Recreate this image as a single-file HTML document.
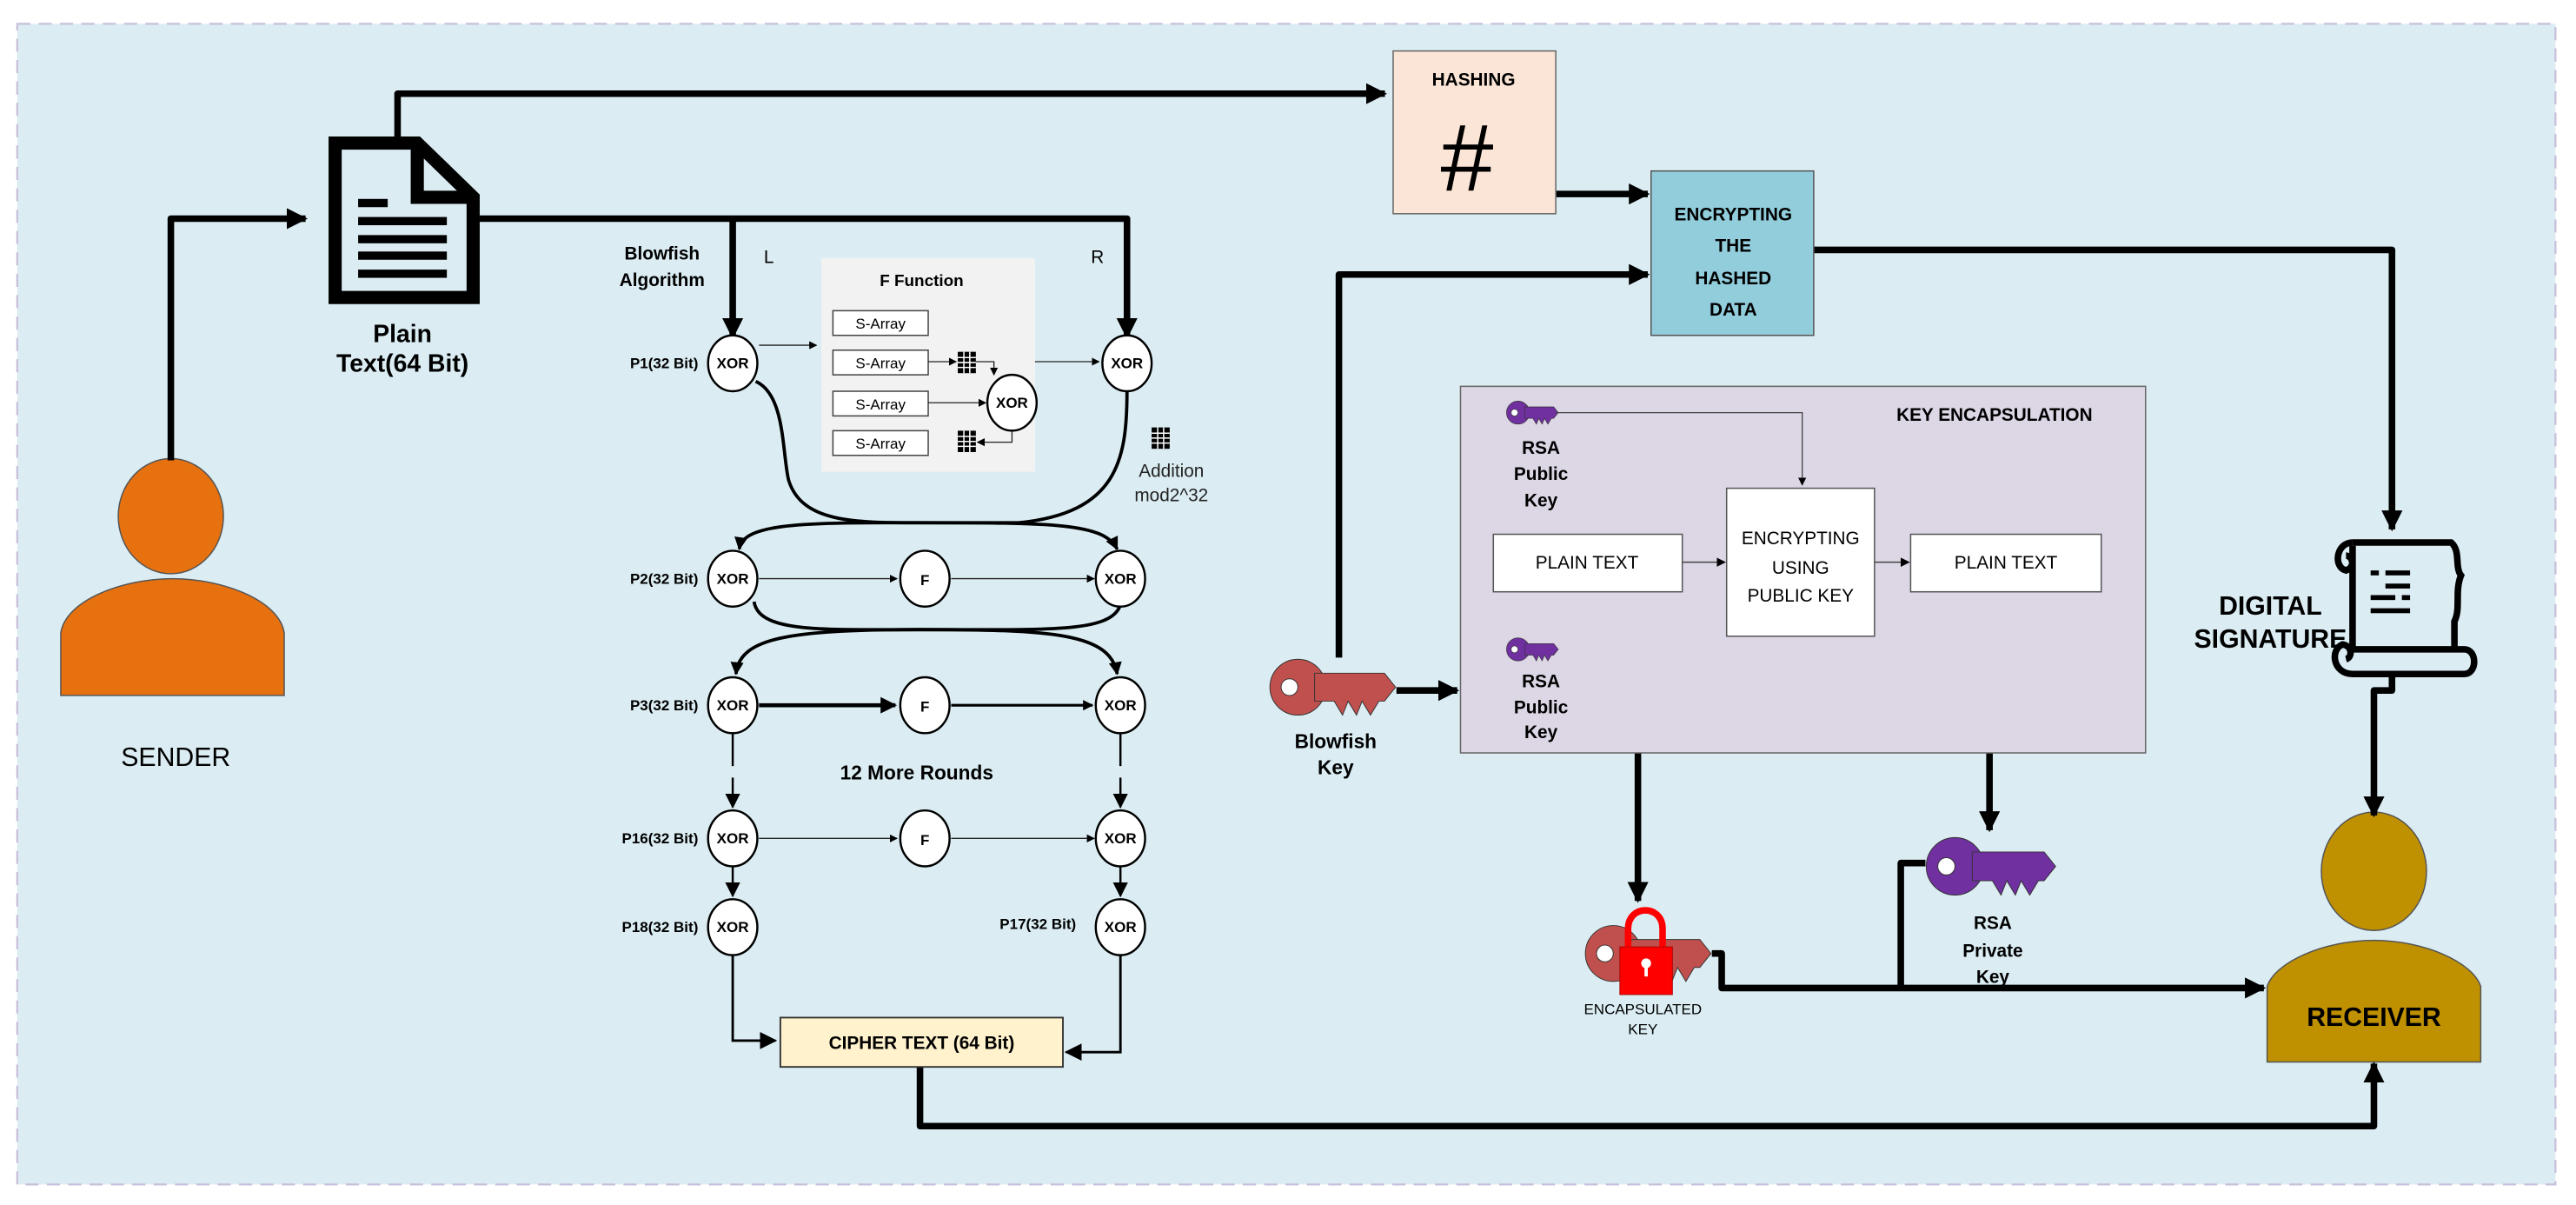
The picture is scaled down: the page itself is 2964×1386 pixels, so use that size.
<!DOCTYPE html>
<html><head><meta charset="utf-8"><style>
html,body{margin:0;padding:0;background:#fff;}
svg{display:block;}
text{font-family:"Liberation Sans Narrow","Liberation Sans",sans-serif;}
</style></head><body>
<svg width="2964" height="1386" viewBox="0 0 1568 733" preserveAspectRatio="none" xmlns="http://www.w3.org/2000/svg">
<defs>
<marker id="a" viewBox="0 0 10 10" refX="9" refY="5" markerWidth="3.2" markerHeight="3.2" orient="auto" markerUnits="strokeWidth"><path d="M0,0L10,5L0,10z" fill="#000"/></marker>
<marker id="t" viewBox="0 0 10 10" refX="9" refY="5" markerWidth="7" markerHeight="7" orient="auto" markerUnits="strokeWidth"><path d="M0,0L10,5L0,10z" fill="#000"/></marker>
<marker id="m" viewBox="0 0 10 10" refX="9" refY="5" markerWidth="4" markerHeight="4" orient="auto" markerUnits="strokeWidth"><path d="M0,0L10,5L0,10z" fill="#000"/></marker>
<g id="key"><circle cx="0" cy="0" r="10"/><polygon points="6,-5 31,-5 35,0 31,5 29,5 26,10 23,5 21,10 18,5 16,10 13,5 6,5"/><circle cx="-3" cy="0" r="3" fill="#fff"/></g>
<g id="grid"><rect x="0" y="0" width="11" height="13" fill="#000"/><path d="M0,3.5H11M0,6.5H11M0,9.5H11M3.7,0V13M7.3,0V13" stroke="#fff" stroke-width="0.8"/></g>
</defs>
<rect x="0" y="0" width="1568" height="733" fill="#fff"/>
<rect x="10.5" y="14.5" width="1545" height="706" fill="#dbedf3" stroke="#c9bfdc" stroke-width="1.2" stroke-dasharray="8,5"/>

<!-- sender -->
<ellipse cx="104" cy="314" rx="32" ry="35" fill="#e8710f" stroke="#555" stroke-width="0.8"/>
<path d="M37,423 V385 C40,365 75,352 105,352 C135,352 170,365 173,385 V423 Z" fill="#e8710f" stroke="#555" stroke-width="0.8"/>
<text x="107" y="466" font-size="16" text-anchor="middle">SENDER</text>

<!-- receiver -->
<ellipse cx="1445" cy="530" rx="32" ry="36" fill="#bf9000" stroke="#555" stroke-width="0.8"/>
<path d="M1380,646 V600 C1385,585 1415,572 1445,572 C1475,572 1505,585 1510,600 V646 Z" fill="#bf9000" stroke="#555" stroke-width="0.8"/>
<text x="1445" y="624" font-size="16" font-weight="bold" text-anchor="middle">RECEIVER</text>

<!-- thick connectors -->
<g fill="none" stroke="#000" stroke-width="4" stroke-linejoin="round">
<path d="M104,280 V133 H186" marker-end="url(#a)"/>
<path d="M242,83 V57 H843" marker-end="url(#a)"/>
<path d="M292,133 H686 V205" marker-end="url(#a)"/>
<path d="M446,133 V205" marker-end="url(#a)"/>
<path d="M947,118 H1003" marker-end="url(#a)"/>
<path d="M815,400 V167 H1003" marker-end="url(#a)"/>
<path d="M1104,152 H1456 V322" marker-end="url(#a)"/>
<path d="M1456,410 V420 H1445 V496" marker-end="url(#a)"/>
<path d="M850,420 H887" marker-end="url(#a)"/>
<path d="M997,458 V548" marker-end="url(#a)"/>
<path d="M1211,458 V505" marker-end="url(#a)"/>
<path d="M1042,580 H1048 V601 H1378" marker-end="url(#a)"/>
<path d="M1157,601 V525 H1172"/>
<path d="M560,649 V685 H1445 V647" marker-end="url(#a)"/>
</g>

<!-- document -->
<path d="M204,87 H254 L288,120 V181 H204 Z" fill="none" stroke="#000" stroke-width="8"/>
<path d="M254,87 V120 H288" fill="none" stroke="#000" stroke-width="8"/>
<rect x="218" y="121" width="18" height="5"/>
<rect x="218" y="132" width="54" height="5"/>
<rect x="218" y="143" width="54" height="5"/>
<rect x="218" y="153" width="54" height="5"/>
<rect x="218" y="164" width="54" height="5"/>
<text x="245" y="208" font-size="15" font-weight="bold" text-anchor="middle">Plain</text>
<text x="245" y="226" font-size="15" font-weight="bold" text-anchor="middle">Text(64 Bit)</text>

<!-- hashing -->
<rect x="848" y="31" width="99" height="99" fill="#fbe5d6" stroke="#666" stroke-width="0.8"/>
<text x="897" y="52" font-size="11" font-weight="bold" text-anchor="middle">HASHING</text>
<text x="893" y="116" font-size="58" text-anchor="middle">#</text>
<!-- encrypting hashed -->
<rect x="1005" y="104" width="99" height="100" fill="#92cddc" stroke="#555" stroke-width="0.8"/>
<g font-size="11" font-weight="bold" text-anchor="middle">
<text x="1055" y="134">ENCRYPTING</text><text x="1055" y="153">THE</text><text x="1055" y="173">HASHED</text><text x="1055" y="192">DATA</text>
</g>

<!-- scroll -->
<g fill="none" stroke="#000" stroke-width="4">
<path d="M1432,330 H1492 C1498,335 1494,345 1498,350 C1494,360 1498,370 1494,378 V396"/>
<path d="M1432,330 C1422,330 1420,345 1428,347 C1434,345 1432,338 1428,338"/>
<path d="M1432,332 V395"/>
<path d="M1432,395 H1500 C1508,395 1508,410 1500,410 H1432 C1420,410 1418,395 1426,392 C1432,393 1432,400 1428,401"/>
</g>
<rect x="1443" y="347" width="5" height="3"/><rect x="1452" y="347" width="15" height="3"/>
<rect x="1452" y="355" width="15" height="3"/><rect x="1443" y="362" width="15" height="3"/><rect x="1462" y="362" width="5" height="3"/>
<rect x="1443" y="370" width="24" height="3"/>
<text x="1382" y="374" font-size="16" font-weight="bold" text-anchor="middle">DIGITAL</text>
<text x="1382" y="394" font-size="16" font-weight="bold" text-anchor="middle">SIGNATURE</text>

<!-- key encapsulation -->
<rect x="889" y="235" width="417" height="223" fill="#dcd6e5" stroke="#666" stroke-width="0.8"/>
<text x="1214" y="256" font-size="11" font-weight="bold" text-anchor="middle">KEY ENCAPSULATION</text>
<use href="#key" transform="translate(924,251) scale(0.7)" fill="#7030a0" stroke="#333" stroke-width="0.5"/>
<g font-size="11" font-weight="bold" text-anchor="middle">
<text x="938" y="276">RSA</text><text x="938" y="292">Public</text><text x="938" y="308">Key</text>
</g>
<path d="M947,251 H1097 V295" fill="none" stroke="#444" stroke-width="0.7" marker-end="url(#t)"/>
<rect x="1051" y="297" width="90" height="90" fill="#fff" stroke="#555" stroke-width="0.8"/>
<g font-size="11" text-anchor="middle">
<text x="1096" y="331">ENCRYPTING</text><text x="1096" y="349">USING</text><text x="1096" y="366">PUBLIC KEY</text>
</g>
<rect x="909" y="325" width="115" height="35" fill="#fff" stroke="#555" stroke-width="0.8"/>
<rect x="1163" y="325" width="116" height="35" fill="#fff" stroke="#555" stroke-width="0.8"/>
<text x="966" y="346" font-size="11" text-anchor="middle">PLAIN TEXT</text>
<text x="1221" y="346" font-size="11" text-anchor="middle">PLAIN TEXT</text>
<path d="M1024,342 H1050" stroke="#444" stroke-width="0.8" marker-end="url(#t)"/>
<path d="M1141,342 H1162" stroke="#444" stroke-width="0.8" marker-end="url(#t)"/>
<use href="#key" transform="translate(924,395) scale(0.7)" fill="#7030a0" stroke="#333" stroke-width="0.5"/>
<g font-size="11" font-weight="bold" text-anchor="middle">
<text x="938" y="418">RSA</text><text x="938" y="434">Public</text><text x="938" y="449">Key</text>
</g>

<!-- blowfish key -->
<use href="#key" transform="translate(790,418) scale(1.7)" fill="#c0504d" stroke="#333" stroke-width="0.3"/>
<text x="813" y="455" font-size="12" font-weight="bold" text-anchor="middle">Blowfish</text>
<text x="813" y="471" font-size="12" font-weight="bold" text-anchor="middle">Key</text>

<!-- encapsulated key -->
<use href="#key" transform="translate(982,580) scale(1.7)" fill="#c0504d" stroke="#333" stroke-width="0.3"/>
<path d="M991,578 V565 C991,550 1012,550 1012,565 V578" fill="none" stroke="#f00" stroke-width="4"/>
<rect x="986" y="576" width="32" height="29" fill="#f00" stroke="#a00" stroke-width="0.5"/>
<circle cx="1002" cy="586" r="3" fill="#fff"/><rect x="1001" y="586" width="2" height="8" fill="#fff"/>
<text x="1000" y="617" font-size="9" text-anchor="middle">ENCAPSULATED</text>
<text x="1000" y="629" font-size="9" text-anchor="middle">KEY</text>

<!-- private key -->
<use href="#key" transform="translate(1190,527) scale(1.75)" fill="#7030a0" stroke="#333" stroke-width="0.3"/>
<g font-size="11" font-weight="bold" text-anchor="middle">
<text x="1213" y="565">RSA</text><text x="1213" y="582">Private</text><text x="1213" y="598">Key</text>
</g>

<!-- blowfish algorithm -->
<text x="403" y="158" font-size="11" font-weight="bold" text-anchor="middle">Blowfish</text>
<text x="403" y="174" font-size="11" font-weight="bold" text-anchor="middle">Algorithm</text>
<text x="468" y="160" font-size="11" text-anchor="middle">L</text>
<text x="668" y="160" font-size="11" text-anchor="middle">R</text>

<rect x="500" y="157" width="130" height="130" fill="#f2f2f2"/>
<text x="561" y="174" font-size="10" font-weight="bold" text-anchor="middle">F Function</text>
<g fill="#fff" stroke="#444" stroke-width="0.8">
<rect x="507" y="189" width="58" height="15"/><rect x="507" y="213" width="58" height="15"/>
<rect x="507" y="238" width="58" height="15"/><rect x="507" y="262" width="58" height="15"/>
</g>
<g font-size="9" text-anchor="middle"><text x="536" y="200">S-Array</text><text x="536" y="224">S-Array</text><text x="536" y="249">S-Array</text><text x="536" y="273">S-Array</text></g>
<use href="#grid" x="583" y="214"/><use href="#grid" x="583" y="262"/>
<use href="#grid" x="701" y="260"/>
<text x="713" y="290" font-size="11" fill="#222" text-anchor="middle">Addition</text>
<text x="713" y="305" font-size="11" fill="#222" text-anchor="middle">mod2^32</text>
<g stroke="#222" stroke-width="0.7" fill="none">
<path d="M565,220 H582" marker-end="url(#t)"/>
<path d="M594,220 H605 V228" marker-end="url(#t)"/>
<path d="M565,245 H600" marker-end="url(#t)"/>
<path d="M616,261 V269 H595" marker-end="url(#t)"/>
<path d="M462,210 H497" marker-end="url(#t)"/>
<path d="M630,220 H669" marker-end="url(#t)"/>
<path d="M462,352 H546" marker-end="url(#t)"/>
<path d="M579,352 H666" marker-end="url(#t)"/>
<path d="M462,510 H546" marker-end="url(#t)"/>
<path d="M579,510 H666" marker-end="url(#t)"/>
</g>
<g stroke="#000" stroke-width="2.5" fill="none">
<path d="M462,429 H545" marker-end="url(#m)"/>
<path d="M579,429 H665" stroke-width="1.6" marker-end="url(#m)"/>
</g>
<!-- crossings -->
<g stroke="#000" stroke-width="2" fill="none">
<path d="M460,232 C478,240 476,275 480,292 C488,318 520,318 560,318 C640,318 672,318 680,334" marker-end="url(#m)"/>
<path d="M686,238 C686,280 680,312 620,318 L540,318 C480,318 452,320 450,334" marker-end="url(#m)"/>
<path d="M459,366 C462,385 500,383 560,383 C640,383 676,385 680,410" marker-end="url(#m)"/>
<path d="M682,368 C676,385 640,383 560,383 C480,383 450,388 448,410" marker-end="url(#m)"/>
</g>
<g stroke="#000" stroke-width="1.3" fill="none">
<path d="M446,446 V466"/><path d="M682,446 V466"/>
<path d="M446,473 V491" marker-end="url(#t)"/><path d="M682,473 V491" marker-end="url(#t)"/>
<path d="M446,527 V545" marker-end="url(#t)"/><path d="M682,527 V545" marker-end="url(#t)"/>
<path d="M446,581 V633 H472" stroke-width="1.5" marker-end="url(#t)"/>
<path d="M682,581 V640 H649" stroke-width="1.5" marker-end="url(#t)"/>
</g>
<text x="558" y="474" font-size="12" font-weight="bold" text-anchor="middle">12 More Rounds</text>

<!-- XOR / F circles -->
<g fill="#fff" stroke="#000" stroke-width="1.3">
<ellipse cx="446" cy="221" rx="15" ry="17"/><ellipse cx="686" cy="221" rx="15" ry="17"/>
<ellipse cx="616" cy="245" rx="15" ry="17"/>
<ellipse cx="446" cy="352" rx="15" ry="17"/><ellipse cx="563" cy="352" rx="15" ry="17"/><ellipse cx="682" cy="352" rx="15" ry="17"/>
<ellipse cx="446" cy="429" rx="15" ry="17"/><ellipse cx="563" cy="429" rx="15" ry="17"/><ellipse cx="682" cy="429" rx="15" ry="17"/>
<ellipse cx="446" cy="510" rx="15" ry="17"/><ellipse cx="563" cy="510" rx="15" ry="17"/><ellipse cx="682" cy="510" rx="15" ry="17"/>
<ellipse cx="446" cy="564" rx="15" ry="17"/><ellipse cx="682" cy="564" rx="15" ry="17"/>
</g>
<g font-size="9" font-weight="bold" text-anchor="middle">
<text x="446" y="224">XOR</text><text x="686" y="224">XOR</text><text x="616" y="248">XOR</text>
<text x="446" y="355">XOR</text><text x="563" y="356">F</text><text x="682" y="355">XOR</text>
<text x="446" y="432">XOR</text><text x="563" y="433">F</text><text x="682" y="432">XOR</text>
<text x="446" y="513">XOR</text><text x="563" y="514">F</text><text x="682" y="513">XOR</text>
<text x="446" y="567">XOR</text><text x="682" y="567">XOR</text>
</g>
<g font-size="9" font-weight="bold" text-anchor="end">
<text x="425" y="224">P1(32 Bit)</text><text x="425" y="355">P2(32 Bit)</text><text x="425" y="432">P3(32 Bit)</text>
<text x="425" y="513">P16(32 Bit)</text><text x="425" y="567">P18(32 Bit)</text><text x="655" y="565">P17(32 Bit)</text>
</g>

<!-- cipher -->
<rect x="475" y="619" width="172" height="30" fill="#fff2cc" stroke="#333" stroke-width="1"/>
<text x="561" y="638" font-size="11" font-weight="bold" text-anchor="middle">CIPHER TEXT (64 Bit)</text>
</svg>
</body></html>
